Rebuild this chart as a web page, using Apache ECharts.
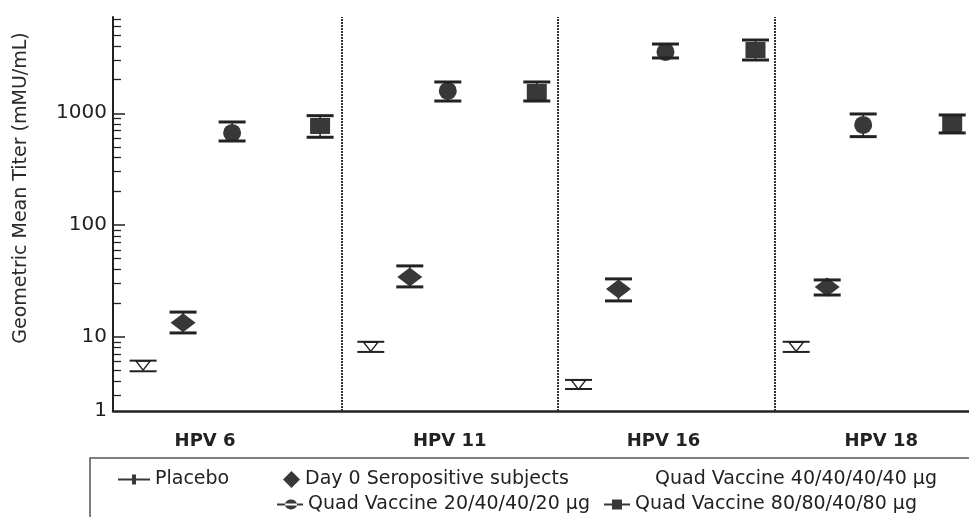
<!DOCTYPE html>
<html><head><meta charset="utf-8">
<script src="https://cdn.jsdelivr.net/npm/echarts@6/dist/echarts.min.js"></script>
<style>html,body{margin:0;padding:0;background:#fff}#c{width:969px;height:517px}</style>
</head><body><div id="c"></div><script>
// ---------- data ----------
const categories = ['HPV 6', 'HPV 11', 'HPV 16', 'HPV 18'];

const placeboGMT  = [5.5, 8.1, 3.7, 8.1];
const placeboLow  = [4.9, 7.3, 3.4, 7.3];
const placeboHigh = [6.1, 9.0, 4.1, 9.0];

const seroGMT  = [13.3, 34.3, 26.7, 27.9];
const seroLow  = [10.8, 27.9, 20.9, 23.6];
const seroHigh = [16.6, 43.0, 32.9, 32.2];

const quad20GMT  = [667, 1585, 3540, 786];
const quad20Low  = [565, 1288, 3128, 618];
const quad20High = [836, 1907, 4170, 986];

const quad40GMT = [];   // listed in legend, no markers drawn

const quad80GMT  = [770, 1552, 3687, 802];
const quad80Low  = [610, 1288, 3000, 667];
const quad80High = [952, 1907, 4530, 966];

const yMajorTicks = [10, 100, 1000];
const yMinorTicks = [3, 4, 5, 6, 7, 8, 9, 20, 30, 40, 50, 60, 70, 80, 90,
                     200, 300, 400, 500, 600, 700, 800, 900, 2000, 3000, 4000, 5000, 6000, 7000];
const yBottomLabel = '1';

const seriesNames = ['Placebo', 'Day 0 Seropositive subjects', 'Quad Vaccine 40/40/40/40 \u00b5g',
                     'Quad Vaccine 20/40/40/20 \u00b5g', 'Quad Vaccine 80/80/40/80 \u00b5g'];

// ---------- styles (pixel offsets of each series inside its HPV group) ----------
const groupShift = {
  placebo: [-90, -79, -88, -87],
  sero:    [-50, -40, -48, -56],
  quad20:  [-1, -2, -1, -20],
  quad80:  [87, 87, 89, 69]
};
const labelShift = [-28, 0, -3, -2];   // px shift of each category label
const FONT = 'DejaVu Sans';
const INK = '#222';
const MARK = '#383838';

function rows(gmt, lo, hi) {
  return gmt.map((v, i) => [i, v, lo[i], hi[i]]);
}

function makeRender(kind) {
  return function (params, api) {
    const g = api.value(0);
    const c = api.coord([g, api.value(1)]);
    const lo = api.coord([g, api.value(2)]);
    const hi = api.coord([g, api.value(3)]);
    const x = c[0] + groupShift[kind][g];
    const y = c[1];
    const capW = 13.5;
    const capLw = kind === 'placebo' ? 2 : 3;
    const children = [];
    if (kind !== 'placebo') {
      children.push({ type: 'line', shape: { x1: x, y1: hi[1], x2: x, y2: lo[1] },
        style: { stroke: INK, lineWidth: 1.5 } });
    }
    let marker;
    if (kind === 'placebo') {
      marker = { type: 'polygon', shape: { points: [[x - 7, y - 4.5], [x + 7, y - 4.5], [x, y + 4.5]] },
        style: { fill: '#fff', stroke: INK, lineWidth: 1.4 } };
    } else if (kind === 'sero') {
      marker = { type: 'polygon', shape: { points: [[x - 12.5, y], [x, y - 9.5], [x + 12.5, y], [x, y + 9.5]] },
        style: { fill: MARK } };
    } else if (kind === 'quad20') {
      marker = { type: 'path', shape: { pathData: 'M0,10A10,10 0 1,0 20,10A10,10 0 1,0 0,10Z',
        x: x - 11, y: y - 9, width: 22, height: 18 }, style: { fill: MARK } };
    } else {
      marker = { type: 'rect', shape: { x: x - 10, y: y - 8, width: 20, height: 16 }, style: { fill: MARK } };
    }
    children.push(marker);
    children.push({ type: 'line', shape: { x1: x - capW, y1: hi[1], x2: x + capW, y2: hi[1] },
      style: { stroke: INK, lineWidth: capLw } });
    children.push({ type: 'line', shape: { x1: x - capW, y1: lo[1], x2: x + capW, y2: lo[1] },
      style: { stroke: INK, lineWidth: capLw } });
    return { type: 'group', children };
  };
}

function errSeries(name, kind, data) {
  return {
    name, type: 'custom', renderItem: makeRender(kind), data,
    encode: { x: 0, y: [1, 2, 3] },
    itemStyle: { color: MARK }, silent: true, clip: false
  };
}

const separators = categories.slice(1).map((_, i) => ({ xAxis: i + 0.5 }));

const labelRich = {};
labelShift.forEach((s, i) => {
  labelRich['g' + i] = {
    fontFamily: FONT, fontWeight: 'bold', fontSize: 18, color: INK,
    padding: [0, Math.max(0, -2 * s), 0, Math.max(0, 2 * s)]
  };
});

const chart = echarts.init(document.getElementById('c'), null, { renderer: 'canvas' });

const legendText = { fontFamily: FONT, fontSize: 19, color: INK };
const legendBase = { orient: 'horizontal', padding: 0, itemGap: 0, selectedMode: false,
  textStyle: legendText, itemHeight: 10 };

const ICON_PLACEBO = 'path://M0,4H32V6H0Z M14,0H18V10H14Z';
const ICON_CIRCLE = 'path://M0,4H26V6H0Z M8,5A6,5 0 1,0 20,5A6,5 0 1,0 8,5Z';
const ICON_SQUARE = 'path://M0,4H26V6H0Z M8,0H18V10H8Z';

chart.setOption({
  animation: false,
  backgroundColor: '#fff',
  grid: { left: 113, right: 0, top: 17, bottom: 106, containLabel: false },
  xAxis: {
    type: 'value', min: -0.5542, max: 3.396,
    axisLine: { show: true, onZero: false, lineStyle: { color: INK, width: 2.5 } },
    axisTick: { show: false },
    splitLine: { show: false },
    axisLabel: {
      customValues: categories.map((_, i) => i),
      formatter: v => {
        const i = Math.round(v);
        return categories[i] ? '{g' + i + '|' + categories[i] + '}' : '';
      },
      rich: labelRich,
      fontFamily: FONT, fontWeight: 'bold', fontSize: 18, color: INK, margin: 21
    }
  },
  yAxis: [{
    type: 'log', logBase: 10, min: 2.16, max: 7280,
    axisLine: { show: true, onZero: false, lineStyle: { color: INK, width: 2 } },
    axisTick: { show: true, inside: true, length: 12, customValues: yMajorTicks,
      lineStyle: { color: INK, width: 1.5 } },
    splitLine: { show: false },
    axisLabel: {
      formatter: v => v < 5 ? yBottomLabel : (v > 5000 ? '' : String(Math.round(v))),
      fontFamily: FONT, fontSize: 20, color: INK, margin: 6, padding: [8, 0, 0, 0]
    },
    name: 'Geometric Mean Titer (mMU/mL)', nameLocation: 'middle', nameGap: 82, nameRotate: 90,
    nameTextStyle: { fontFamily: FONT, fontSize: 19, color: '#2a2a2a', padding: [0, 0, 0, 52] }
  }, {
    type: 'log', logBase: 10, min: 2.16, max: 7280, position: 'left',
    axisLine: { show: false, onZero: false },
    axisTick: { show: true, inside: true, length: 8, customValues: yMinorTicks,
      lineStyle: { color: INK, width: 1.3 } },
    axisLabel: { show: false },
    splitLine: { show: false }
  }],
  legend: [
    Object.assign({}, legendBase, { left: 118, top: 470, itemWidth: 32,
      data: [{ name: seriesNames[0], icon: ICON_PLACEBO }] }),
    Object.assign({}, legendBase, { left: 283, top: 470, itemWidth: 17, itemHeight: 17,
      data: [{ name: seriesNames[1], icon: 'diamond' }] }),
    Object.assign({}, legendBase, { left: 650, top: 470, itemWidth: 0,
      data: [{ name: seriesNames[2], icon: 'none' }] }),
    Object.assign({}, legendBase, { left: 277, top: 495, itemWidth: 26,
      data: [{ name: seriesNames[3], icon: ICON_CIRCLE }] }),
    Object.assign({}, legendBase, { left: 604, top: 495, itemWidth: 26,
      data: [{ name: seriesNames[4], icon: ICON_SQUARE }] })
  ],
  graphic: [{
    type: 'polyline', silent: true,
    shape: { points: [[90, 520], [90, 458], [975, 458]] },
    style: { stroke: '#555', lineWidth: 1.5, fill: null }
  }],
  series: [
    errSeries(seriesNames[0], 'placebo', rows(placeboGMT, placeboLow, placeboHigh)),
    errSeries(seriesNames[1], 'sero', rows(seroGMT, seroLow, seroHigh)),
    errSeries(seriesNames[2], 'quad20', quad40GMT),
    errSeries(seriesNames[3], 'quad20', rows(quad20GMT, quad20Low, quad20High)),
    errSeries(seriesNames[4], 'quad80', rows(quad80GMT, quad80Low, quad80High)),
    {
      type: 'line', data: [], silent: true,
      markLine: {
        silent: true, symbol: ['none', 'none'], label: { show: false },
        lineStyle: { type: [2, 1], color: '#333', width: 2 },
        data: separators
      }
    }
  ]
});
</script></body></html>
